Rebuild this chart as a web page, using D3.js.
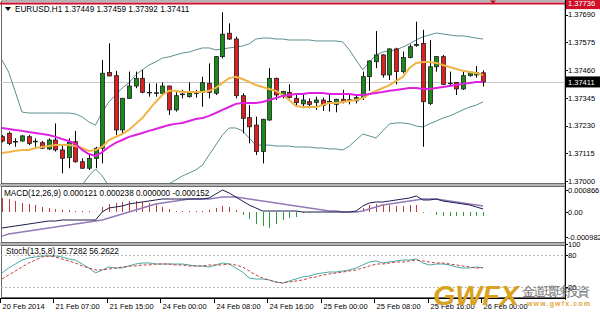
<!DOCTYPE html>
<html>
<head>
<meta charset="utf-8">
<script src="https://cdn.jsdelivr.net/npm/d3@7"></script>
<style>
body{margin:0;background:#fff}
svg{display:block}
text{font-family:"Liberation Sans",Arial,sans-serif}
</style>
</head>
<body>
<div id="chart"></div>
<script>
// EURUSD H1 candles, bar 0 .. bar 72
var open=[1.37184,1.37198,1.37164,1.37166,1.37184,1.37163,1.37159,1.37133,1.37170,1.37129,
1.37097,1.37163,1.37080,1.37053,1.37094,1.37136,1.37450,1.37437,1.37212,1.37343,
1.37394,1.37426,1.37368,1.37366,1.37364,1.37394,1.37295,1.37358,1.37350,1.37364,
1.37368,1.37405,1.37364,1.37516,1.37613,1.37589,1.37354,1.37263,1.37232,1.37122,
1.37253,1.37426,1.37354,1.37368,1.37343,1.37320,1.37329,1.37326,1.37336,1.37330,
1.37318,1.37339,1.37335,1.37333,1.37346,1.37433,1.37495,1.37523,1.37440,1.37548,
1.37454,1.37512,1.37562,1.37571,1.37322,1.37474,1.37516,1.37405,1.37409,1.37382,
1.37437,1.37440,1.37449];
var high=[1.37191,1.37205,1.37177,1.37191,1.37191,1.37177,1.37166,1.37177,1.37239,1.37149,
1.37177,1.37208,1.37094,1.37115,1.37142,1.37502,1.37571,1.37457,1.37345,1.37454,
1.37454,1.37461,1.37405,1.37405,1.37409,1.37396,1.37368,1.37378,1.37409,1.37378,
1.37433,1.37488,1.37518,1.37700,1.37654,1.37599,1.37364,1.37315,1.37267,1.37258,
1.37468,1.37429,1.37374,1.37401,1.37357,1.37357,1.37343,1.37350,1.37346,1.37364,
1.37341,1.37378,1.37364,1.37360,1.37454,1.37500,1.37622,1.37526,1.37550,1.37553,
1.37537,1.37567,1.37661,1.37627,1.37585,1.37518,1.37523,1.37454,1.37411,1.37454,
1.37454,1.37477,1.37459];
var low=[1.37160,1.37149,1.37142,1.37163,1.37149,1.37142,1.37133,1.37129,1.37122,1.37032,
1.37053,1.37076,1.37050,1.37046,1.37053,1.37073,1.37434,1.37191,1.37191,1.37340,
1.37385,1.37364,1.37350,1.37350,1.37357,1.37274,1.37288,1.37343,1.37346,1.37346,
1.37308,1.37343,1.37357,1.37509,1.37585,1.37343,1.37198,1.37156,1.37108,1.37073,
1.37250,1.37336,1.37343,1.37343,1.37308,1.37302,1.37302,1.37295,1.37291,1.37288,
1.37285,1.37322,1.37318,1.37322,1.37336,1.37374,1.37468,1.37429,1.37419,1.37401,
1.37447,1.37509,1.37557,1.37142,1.37315,1.37454,1.37398,1.37398,1.37357,1.37378,
1.37433,1.37429,1.37392];
var close=[1.37166,1.37156,1.37162,1.37187,1.37156,1.37165,1.37136,1.37170,1.37129,1.37094,
1.37160,1.37080,1.37053,1.37094,1.37136,1.37447,1.37436,1.37212,1.37343,1.37394,
1.37426,1.37368,1.37366,1.37364,1.37394,1.37295,1.37354,1.37361,1.37364,1.37366,
1.37408,1.37368,1.37516,1.37609,1.37589,1.37354,1.37260,1.37225,1.37122,1.37256,
1.37426,1.37357,1.37371,1.37346,1.37325,1.37336,1.37318,1.37336,1.37313,1.37328,
1.37339,1.37329,1.37337,1.37346,1.37433,1.37498,1.37523,1.37440,1.37548,1.37454,
1.37512,1.37557,1.37567,1.37329,1.37474,1.37516,1.37401,1.37406,1.37382,1.37437,
1.37450,1.37449,1.37411];

// overlays
var bbUpper=[1.37502,1.37452,1.37369,1.37286,1.37282,1.37282,1.37282,1.37282,1.37282,1.37282,
1.37282,1.37278,1.37266,1.37245,1.37232,1.37286,1.37328,1.37357,1.37386,1.37407,
1.37440,1.37461,1.37481,1.37494,1.37510,1.37515,1.37523,1.37531,1.37535,1.37544,
1.37552,1.37552,1.37544,1.37548,1.37552,1.37556,1.37560,1.37569,1.37589,1.37593,
1.37593,1.37589,1.37589,1.37585,1.37585,1.37585,1.37585,1.37581,1.37581,1.37581,
1.37581,1.37577,1.37544,1.37502,1.37461,1.37494,1.37523,1.37535,1.37540,1.37544,
1.37556,1.37569,1.37585,1.37598,1.37606,1.37614,1.37610,1.37606,1.37602,1.37602,
1.37598,1.37593,1.37589];
var bbLower=[1.36921,1.36929,1.36938,1.36942,1.36946,1.36946,1.36946,1.36950,1.36954,1.36958,
1.36963,1.36971,1.36983,1.37021,1.37050,1.37021,1.36979,1.36954,1.36942,1.36938,
1.36938,1.36942,1.36946,1.36954,1.36967,1.36988,1.37004,1.37021,1.37033,1.37046,
1.37066,1.37108,1.37149,1.37191,1.37220,1.37220,1.37208,1.37178,1.37149,1.37149,
1.37149,1.37145,1.37145,1.37145,1.37141,1.37141,1.37141,1.37137,1.37137,1.37133,
1.37133,1.37129,1.37145,1.37170,1.37195,1.37187,1.37178,1.37208,1.37237,1.37241,
1.37241,1.37237,1.37228,1.37224,1.37237,1.37249,1.37261,1.37270,1.37282,1.37295,
1.37307,1.37315,1.37328];
var maFast=[1.37116,1.37120,1.37125,1.37129,1.37129,1.37137,1.37141,1.37145,1.37149,1.37149,
1.37149,1.37145,1.37137,1.37125,1.37129,1.37141,1.37170,1.37183,1.37195,1.37212,
1.37237,1.37261,1.37295,1.37328,1.37357,1.37374,1.37374,1.37369,1.37369,1.37369,
1.37369,1.37374,1.37386,1.37407,1.37427,1.37432,1.37423,1.37411,1.37398,1.37390,
1.37382,1.37374,1.37357,1.37336,1.37311,1.37307,1.37307,1.37307,1.37315,1.37324,
1.37324,1.37328,1.37332,1.37336,1.37344,1.37361,1.37374,1.37386,1.37398,1.37415,
1.37432,1.37469,1.37490,1.37494,1.37494,1.37490,1.37481,1.37473,1.37465,1.37457,
1.37452,1.37448,1.37440];
var maSlow=[1.37220,1.37216,1.37212,1.37208,1.37203,1.37199,1.37195,1.37191,1.37183,1.37174,
1.37166,1.37154,1.37129,1.37112,1.37104,1.37120,1.37141,1.37158,1.37170,1.37183,
1.37191,1.37199,1.37208,1.37216,1.37224,1.37232,1.37237,1.37241,1.37249,1.37257,
1.37261,1.37270,1.37282,1.37295,1.37307,1.37320,1.37324,1.37324,1.37324,1.37328,
1.37336,1.37344,1.37353,1.37357,1.37361,1.37361,1.37365,1.37365,1.37365,1.37361,
1.37361,1.37361,1.37361,1.37357,1.37357,1.37361,1.37365,1.37369,1.37374,1.37378,
1.37382,1.37386,1.37386,1.37382,1.37382,1.37386,1.37390,1.37394,1.37398,1.37403,
1.37407,1.37411,1.37411];

// MACD(12,26,9), in millionths
var macdMain=[-630,-591,-551,-512,-473,-433,-394,-355,-355,-315,
-315,-315,-315,-315,-315,0,158,197,236,315,
355,394,433,473,512,512,512,512,512,512,
512,551,709,866,748,591,433,276,158,39,
39,39,39,39,39,0,0,0,0,0,
0,0,0,39,236,355,394,394,433,473,
512,551,630,473,473,512,433,394,355,315,
276,197,121];
var macdSignal=[-950,-867,-827,-788,-749,-709,-670,-630,-591,-551,
-512,-473,-433,-394,-355,-315,-236,-158,-79,0,
79,158,236,315,355,394,433,473,512,512,
512,512,551,591,591,591,551,512,473,433,
394,355,315,276,236,197,158,118,79,39,
39,0,0,0,39,118,197,276,315,355,
394,433,473,512,512,512,473,433,394,355,
315,276,238];
var macdHist=[551,512,433,355,315,276,197,158,118,79,
79,39,39,39,10,197,315,355,394,433,
433,394,355,276,197,118,39,39,39,39,
39,79,158,236,197,79,-118,-276,-473,-551,
-630,-473,-315,-236,-197,-39,-39,-10,10,-10,
10,10,-10,10,158,276,315,276,276,236,
236,276,276,0,-10,-118,-158,-158,-158,-158,
-158,-158,-152];

// Stochastic(13,5,8)
var stochMain=[46.3,55.6,63.1,70.6,74.4,76.3,78.1,78.1,78.1,76.3,
72.5,70.6,63.1,55.6,46.3,51.9,57.5,55.6,55.6,59.4,
63.1,65,65,63.1,63.1,63.1,63.1,63.1,61.3,59.4,
59.4,57.5,61.3,65,63.1,55.6,48.1,36.9,35,35,
33.1,29.4,27.5,31.3,35,38.8,40.6,44.4,46.3,48.1,
48.1,50,51.9,55.6,61.3,66.9,68.8,65,66.9,68.8,
70.6,70.6,72.5,65,61.3,63.1,63.1,61.3,57.5,55.6,
55.6,57.5,55.73];
var stochSignal=[35,42.5,50,57.5,65,70.6,76.3,78.1,76.3,72.5,
68.8,65,59.4,55.6,51.9,51.9,53.8,55.6,57.5,59.4,
59.4,61.3,61.3,63.1,63.1,63.1,61.3,61.3,59.4,59.4,
59.4,61.3,61.3,61.3,63.1,61.3,57.5,50,42.5,36.9,
33.1,29.4,27.5,29.4,31.3,33.1,36.9,38.8,42.5,44.4,
46.3,48.1,50,51.9,55.6,59.4,63.1,63.1,65,66.9,
66.9,68.8,70.6,68.8,66.9,65,65,63.1,61.3,59.4,
57.5,55.6,56.26];

var priceTicks=["1.37690","1.37575","1.37460","1.37345","1.37230","1.37115","1.37000"];
var macdTicks=[["0.000866",866],["0.00",0],["-0.000982",-982]];
var stochTicks=[["100",100],["80",80],["20",20]];
var timeBars=[0,8,16,24,32,40,48,56,64,72];
var timeLabels=["20 Feb 2014","21 Feb 07:00","21 Feb 15:00","24 Feb 00:00","24 Feb 08:00",
  "24 Feb 16:00","25 Feb 00:00","25 Feb 08:00","25 Feb 16:00","26 Feb 00:00"];
var bidPrice=1.37411, redLine=1.37736;

var W=600, H=313, axisX=565;
var svg=d3.select("#chart").append("svg").attr("width",W).attr("height",H);
svg.append("rect").attr("width",W).attr("height",H).attr("fill","#fff");

var x=d3.scaleLinear().domain([0,72]).range([2,483]);
var yP=d3.scaleLinear().domain([1.37,1.37736]).range([181,3.6]);
var yM=d3.scaleLinear().domain([0,866]).range([212,190]);
var yS=d3.scaleLinear().domain([20,80]).range([287,255]);
var idx=d3.range(open.length);

// panels: [top, bottom]
var panels=[[1,183.5],[186.5,242.5],[245.5,297.5]];
var defs=svg.append("defs");
panels.forEach(function(p,i){
  defs.append("clipPath").attr("id","clip"+i).append("rect")
    .attr("x",1).attr("y",p[0]).attr("width",axisX-1).attr("height",p[1]-p[0]);
});
// separators
svg.append("rect").attr("x",0).attr("y",183.5).attr("width",axisX).attr("height",3).attr("fill","#b4b4b4");
svg.append("rect").attr("x",0).attr("y",242.5).attr("width",axisX).attr("height",3).attr("fill","#b4b4b4");
panels.forEach(function(p){
  svg.append("rect").attr("x",1.5).attr("y",p[0]).attr("width",axisX-1.5).attr("height",p[1]-p[0])
    .attr("fill","none").attr("stroke","#6a6a6a");
});

function line(g,vals,ys,color,w,dash){
  var p=g.append("path")
    .attr("d",d3.line().x(function(i){return x(i);}).y(function(i){return ys(vals[i]);})(idx))
    .attr("fill","none").attr("stroke",color).attr("stroke-width",w);
  if(dash) p.attr("stroke-dasharray",dash);
}

// ---- price panel
var g1=svg.append("g").attr("clip-path","url(#clip0)");
g1.append("line").attr("x1",1).attr("x2",axisX).attr("y1",Math.round(yP(bidPrice))+0.5).attr("y2",Math.round(yP(bidPrice))+0.5)
  .attr("stroke","#c8c8c8");
line(g1,bbUpper,yP,"#5b8f90",1);
line(g1,bbLower,yP,"#5b8f90",1);

idx.forEach(function(i){
  var cx=Math.round(x(i))+0.5;
  g1.append("line").attr("x1",cx).attr("x2",cx).attr("y1",yP(high[i])).attr("y2",yP(low[i]))
    .attr("stroke","#000");
  var top=yP(Math.max(open[i],close[i])), bot=yP(Math.min(open[i],close[i]));
  g1.append("rect").attr("x",cx-2).attr("y",top).attr("width",4).attr("height",Math.max(bot-top,0.6))
    .attr("fill",close[i]>=open[i]?"#1a8a1a":"#dd1f1f")
    .attr("stroke","#202020").attr("stroke-width",0.8);
});
line(g1,maFast,yP,"#efb446",2);
line(g1,maSlow,yP,"#e020e0",2);
svg.append("line").attr("x1",0).attr("x2",axisX).attr("y1",yP(redLine)).attr("y2",yP(redLine))
  .attr("stroke","#c8102e").attr("stroke-width",2);
svg.append("path").attr("d","M490,0.5L496,0.5L493,4Z").attr("fill","#c8102e");

svg.append("path").attr("d","M5,7L11,7L8,11Z").attr("fill","#000");
svg.append("text").attr("x",15).attr("y",11.5).attr("font-size",8.2)
  .text("EURUSD.H1  1.37449 1.37459 1.37392 1.37411");

// ---- MACD panel
var g2=svg.append("g").attr("clip-path","url(#clip1)");
idx.forEach(function(i){
  var cx=Math.round(x(i))+0.5;
  g2.append("line").attr("x1",cx).attr("x2",cx).attr("y1",yM(0)).attr("y2",yM(macdHist[i])+(macdHist[i]==0?0.8:0))
    .attr("stroke",macdHist[i]>=0?"#c23a3a":"#2f9a3a");
});
line(g2,macdSignal,yM,"#9479b8",1.5);
line(g2,macdMain,yM,"#1c1c50",1);
svg.append("text").attr("x",4).attr("y",195.5).attr("font-size",8.2)
  .text("MACD(12,26,9) 0.000121 0.000238 0.000000 -0.000152");

// ---- Stochastic panel
var g3=svg.append("g").attr("clip-path","url(#clip2)");
[80,20].forEach(function(v){
  g3.append("line").attr("x1",1).attr("x2",axisX).attr("y1",Math.round(yS(v))+0.5).attr("y2",Math.round(yS(v))+0.5)
    .attr("stroke","#b8b8b8").attr("stroke-dasharray","2,2");
});
line(g3,stochMain,yS,"#45aaa2",1);
line(g3,stochSignal,yS,"#c43c3c",1,"3,2");
svg.append("text").attr("x",6).attr("y",254).attr("font-size",8.2)
  .text("Stoch(13,5,8) 55.7282 56.2622");

// ---- right axis
svg.append("line").attr("x1",axisX+0.5).attr("x2",axisX+0.5).attr("y1",0).attr("y2",300).attr("stroke","#000");
function rlabel(y,txt,bg,fg){
  svg.append("line").attr("x1",axisX).attr("x2",axisX+3).attr("y1",Math.round(y)+0.5).attr("y2",Math.round(y)+0.5).attr("stroke","#000");
  if(bg) svg.append("rect").attr("x",axisX+1).attr("y",y-5.5).attr("width",W-axisX).attr("height",11).attr("fill",bg);
  svg.append("text").attr("x",axisX+3).attr("y",y+2.8).attr("font-size",7.5).attr("fill",fg||"#000").text(txt);
}
priceTicks.forEach(function(t){ rlabel(yP(+t),t); });
rlabel(yP(redLine),redLine.toFixed(5),"#d0102a","#fff");
rlabel(yP(bidPrice),bidPrice.toFixed(5),"#000","#fff");
macdTicks.forEach(function(t){ rlabel(yM(t[1]),t[0]); });
stochTicks.forEach(function(t){ rlabel(yS(t[1]),t[0]); });

// ---- time axis
svg.append("line").attr("x1",0).attr("x2",axisX).attr("y1",298.5).attr("y2",298.5).attr("stroke","#000");
timeBars.forEach(function(b,i){
  var tx=Math.round(x(b))-1.5;
  svg.append("line").attr("x1",tx).attr("x2",tx).attr("y1",298).attr("y2",303).attr("stroke","#000");
  svg.append("text").attr("x",tx+2).attr("y",308.5).attr("font-size",7.5).text(timeLabels[i]);
});

// ---- watermark
var wm=svg.append("g");
wm.append("text").attr("x",433).attr("y",305).attr("font-size",27).attr("font-weight","bold")
  .attr("font-style","italic").attr("fill","#d9a21f").attr("textLength",86).attr("lengthAdjust","spacingAndGlyphs")
  .text("GWFX");
wm.append("text").attr("x",522).attr("y",296).attr("font-size",12.5)
  .attr("font-family","'Noto Sans CJK TC',sans-serif").attr("fill","#6e6e6e").attr("textLength",68)
  .text("金道環球投資");
wm.append("text").attr("x",527).attr("y",305.5).attr("font-size",7).attr("font-weight","bold")
  .attr("fill","#e3a63a").attr("textLength",63).text("www.gwfx.com");
</script>
</body>
</html>
